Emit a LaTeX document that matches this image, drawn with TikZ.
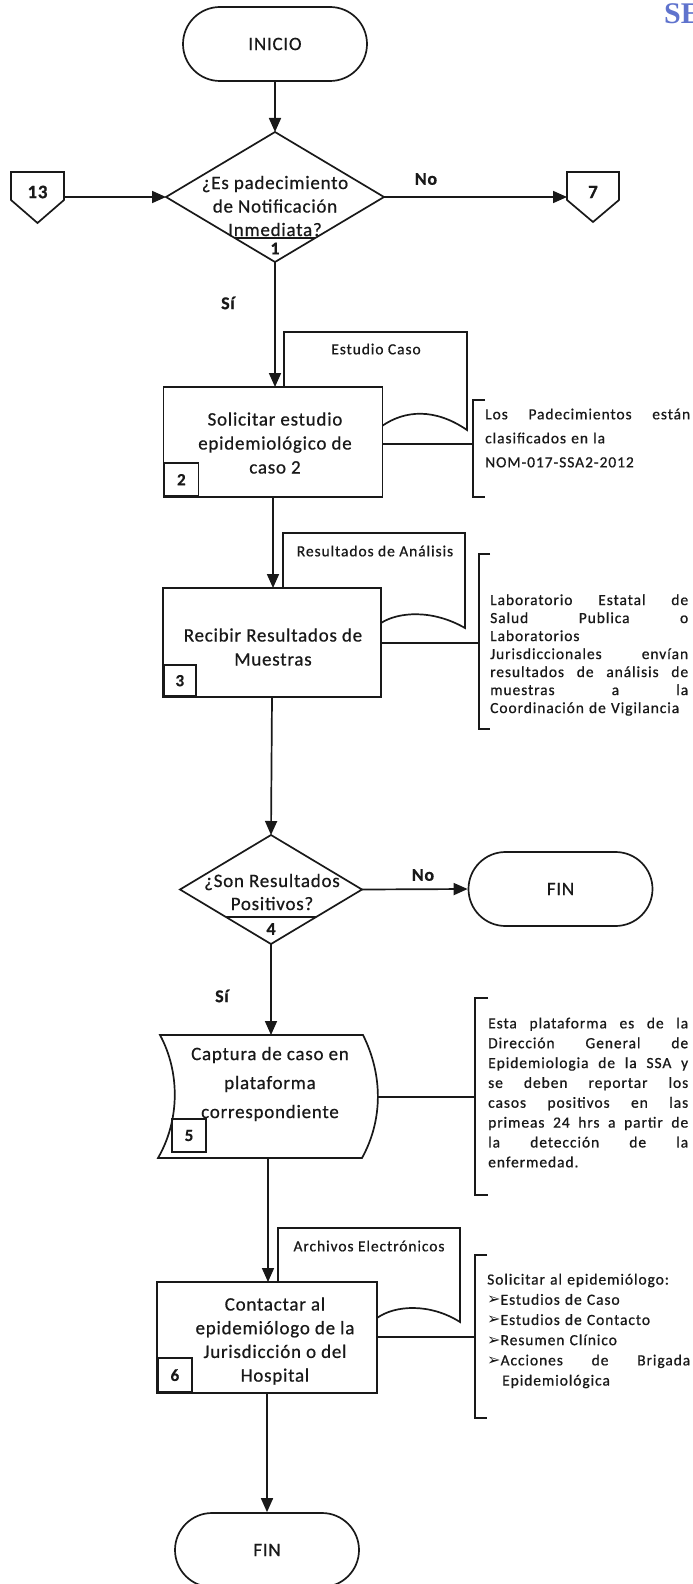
\documentclass[tikz,border=0pt]{standalone}
\usepackage{fontspec}
\setmainfont{Carlito}
\newfontfamily\boxfont[LetterSpace=4,FakeBold=0.6]{Carlito}
\newfontfamily\notefont[LetterSpace=6,FakeBold=0.7]{Carlito}
\newfontfamily\symfont{DejaVu Sans}
\newfontfamily\stampfont{Liberation Serif}
\usetikzlibrary{shapes.geometric,arrows.meta}
\definecolor{ink}{RGB}{25,25,25}
\definecolor{stampblue}{RGB}{95,115,205}
\newcommand\bul{{\symfont\fontsize{16}{16}\selectfont ➢}}
% a line of a note stretched to the full column width
\newcommand\fullline[1]{\noindent\hbox to \hsize{#1}}

\begin{document}
\begin{tikzpicture}[x=1pt,y=-1pt,
  every node/.style={text=ink},
  stroke/.style={draw=ink,line width=1.7pt},
  flowarrow/.style={stroke,-{Triangle[length=14pt,width=12pt]}},
  terminal/.style={stroke,rounded corners=37pt,minimum width=184pt,minimum height=74pt,inner sep=0pt,
    font=\boxfont\fontsize{19}{23}\selectfont},
  decision/.style={stroke,diamond,inner sep=0pt,outer sep=0pt},
  process/.style={stroke,fill=white,rectangle,inner sep=0pt,outer sep=0pt},
  boxtext/.style={align=center,inner sep=0pt,font=\boxfont\fontsize{19}{24}\selectfont},
  numbox/.style={stroke,rectangle,inner sep=0pt,minimum width=34pt,minimum height=33pt,
    font=\boxfont\bfseries\fontsize{17}{17}\selectfont},
  tag/.style={inner sep=0pt,font=\boxfont\bfseries\fontsize{18}{18}\selectfont},
  doclabel/.style={inner sep=0pt,font=\notefont\fontsize{15.5}{15.5}\selectfont},
  note/.style={inner sep=0pt,text width=200pt,align=left,anchor=west,
    font=\notefont\fontsize{15.5}{19.85}\selectfont},
]
\useasboundingbox (0,0) rectangle (693,1584);

% corner stamp
\begin{scope}
  \clip (0,0) rectangle (693,1584);
  \node[inner sep=0pt,anchor=west,text=stampblue,
        font=\stampfont\bfseries\fontsize{30}{30}\selectfont] (stamp) at (664,14) {SE};
\end{scope}

% ---- start and first decision
\node[terminal] (start) at (275,44) {INICIO};
\node[decision,minimum width=218pt,minimum height=130pt] (q1) at (275,197) {};
\node[boxtext,font=\boxfont\fontsize{19}{23.5}\selectfont] (q1text) at (275,206)
  {¿Es padecimiento\\de Notificación\\Inmediata?};
\draw[stroke] (234.8,238) -- (315.2,238);
\node[tag] (q1num) at (275,248.5) {1};
\draw[flowarrow] (start.south) -- (q1.north);

% off-page connectors
\draw[stroke] (11,172) -- (64,172) -- (64,200) -- (37.5,223) -- (11,200) -- cycle;
\node[tag,font=\boxfont\bfseries\fontsize{19}{19}\selectfont] (off13) at (37.5,192) {13};
\coordinate (off13r) at (64,197);
\draw[stroke] (567,172) -- (619,172) -- (619,200) -- (593,222) -- (567,200) -- cycle;
\node[tag,font=\boxfont\bfseries\fontsize{19}{19}\selectfont] (off7) at (593,192) {7};
\coordinate (off7l) at (567,197);
\draw[flowarrow] (off13r) -- (q1.west);
\draw[flowarrow] (q1.east) -- (off7l);
\node[tag] (no1) at (426,179) {No};
\node[tag] (si1) at (228,303) {Sí};

% ---- step 2
\draw[stroke] (382,426) .. controls (405,410) and (435,408) .. (467,430)
  -- (467,332) -- (284,332) -- (284,387);
\node[doclabel] (doc1) at (376,349) {Estudio Caso};
\node[process,minimum width=219pt,minimum height=110pt] (p2) at (273,442) {};
\node[boxtext] (p2text) at (275,443) {Solicitar estudio\\epidemiológico de\\caso 2};
\node[numbox,anchor=south west] (n2) at (p2.south west) {2};
\draw[flowarrow] (q1.south) -- (q1.south |- p2.north);

\coordinate (b1) at (473,444);
\draw[stroke] (p2.east |- b1) -- (b1);
\draw[stroke] (485,400) -- (473,400) -- (473,497) -- (485,497);
\node[note,text width=205pt,font=\notefont\fontsize{15.5}{24}\selectfont] (note1) at (485,438)
  {\fullline{Los\hfill Padecimientos\hfill están}\\clasificados en la\\NOM-017-SSA2-2012};

% ---- step 3
\draw[stroke] (381,623) .. controls (398,612) and (432,609) .. (465,628)
  -- (465,533) -- (283,533) -- (283,588);
\node[doclabel] (doc2) at (375,551) {Resultados de Análisis};
\node[process,minimum width=218pt,minimum height=109pt] (p3) at (272,642.5) {};
\node[boxtext] (p3text) at (273,647) {Recibir Resultados de\\Muestras};
\node[numbox,minimum width=32pt,minimum height=31pt,anchor=south west] (n3) at (p3.south west) {3};
\draw[flowarrow] (p2.south) -- (p2.south |- p3.north);

\coordinate (b2) at (479,643);
\draw[stroke] (p3.east |- b2) -- (b2);
\draw[stroke] (490,554) -- (479,554) -- (479,729) -- (490,729);
\node[note,text width=198pt,font=\notefont\fontsize{15.5}{18}\selectfont] (note2) at (490,655)
  {\fullline{Laboratorio\hfill Estatal\hfill de}\\
   \fullline{Salud\hfill Publica\hfill o}\\
   Laboratorios\\
   \fullline{Jurisdiccionales\hfill envían}\\
   \fullline{resultados\hfill de\hfill análisis\hfill de}\\
   \fullline{muestras\hfill a\hfill la}\\
   Coordinación de Vigilancia};

% ---- step 4
\node[decision,minimum width=182pt,minimum height=109pt] (q4) at (271,889.5) {};
\node[boxtext,font=\boxfont\fontsize{19}{23}\selectfont] (q4text) at (272,892)
  {¿Son Resultados\\Positivos?};
\draw[stroke] (226,917) -- (316,917);
\node[tag] (q4num) at (271,929) {4};
\draw[flowarrow] (p3.south) -- (q4.north);
\node[terminal] (end1) at (560.5,889) {FIN};
\draw[flowarrow] (q4.east) -- (end1.west);
\node[tag] (no2) at (423,875) {No};
\node[tag] (si2) at (222,996) {Sí};

% ---- step 5
\coordinate (p5n) at (270,1035);
\coordinate (p5s) at (268,1158);
\coordinate (p5e) at (378,1097);
\draw[stroke,fill=white] (160,1035) -- (363,1035) .. controls (383,1075) and (383,1120) .. (362,1158)
  -- (158,1158) .. controls (180,1120) and (180,1072) .. (160,1035) -- cycle;
\node[boxtext,font=\boxfont\fontsize{19}{29}\selectfont] (p5text) at (270,1084)
  {Captura de caso en\\plataforma\\correspondiente};
\node[numbox] (n5) at (189,1135.5) {5};
\draw[flowarrow] (q4.south) -- (q4.south |- p5n);

\coordinate (b3) at (475,1097);
\draw[stroke] (p5e) -- (b3);
\draw[stroke] (488,998) -- (475,998) -- (475,1195) -- (488,1195);
\node[note] (note3) at (488,1092.5)
  {\fullline{Esta\hfill plataforma\hfill es\hfill de\hfill la}\\
   \fullline{Dirección\hfill General\hfill de}\\
   \fullline{Epidemiologia\hfill de\hfill la\hfill SSA\hfill y}\\
   \fullline{se\hfill deben\hfill reportar\hfill los}\\
   \fullline{casos\hfill positivos\hfill en\hfill las}\\
   \fullline{primeas\hfill 24\hfill hrs\hfill a\hfill partir\hfill de}\\
   \fullline{la\hfill detección\hfill de\hfill la}\\
   enfermedad.};

% ---- step 6
\draw[stroke] (377,1318) .. controls (395,1305) and (430,1303) .. (460,1322)
  -- (460,1228) -- (278,1228) -- (278,1282);
\node[doclabel] (doc3) at (369,1246) {Archivos Electrónicos};
\node[process,minimum width=220pt,minimum height=111pt] (p6) at (267,1337.5) {};
\node[boxtext,font=\boxfont\fontsize{19}{23.7}\selectfont] (p6text) at (275,1341)
  {Contactar al\\epidemiólogo de la\\Jurisdicción o del\\Hospital};
\node[numbox,minimum height=34pt,anchor=south west] (n6) at (p6.south west) {6};
\draw[flowarrow] (p5s) -- (p5s |- p6.north);

\coordinate (b4) at (475,1337);
\draw[stroke] (p6.east |- b4) -- (b4);
\draw[stroke] (487,1255) -- (475,1255) -- (475,1418) -- (487,1418);
\node[note,text width=203pt,font=\notefont\fontsize{15.5}{20.2}\selectfont] (note4) at (487,1331)
  {Solicitar al epidemiólogo:\\
   \bul Estudios de Caso\\
   \bul Estudios de Contacto\\
   \bul Resumen Clínico\\
   \fullline{\bul Acciones\hfill de\hfill Brigada}\\
   \hspace*{15pt}Epidemiológica};

% ---- end
\node[terminal] (end2) at (267,1550) {FIN};
\draw[flowarrow] (p6.south) -- (end2.north);
\end{tikzpicture}
\end{document}
